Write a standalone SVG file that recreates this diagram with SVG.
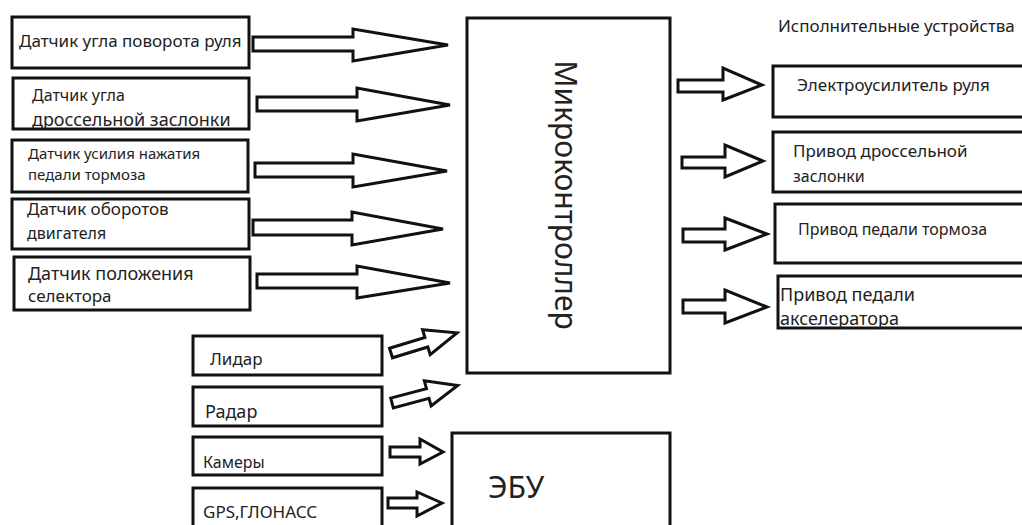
<svg xmlns="http://www.w3.org/2000/svg" width="1022" height="525" viewBox="0 0 1022 525">
<style>
.box{fill:#fff;stroke:#111;stroke-width:3}
.arr{fill:#fff;stroke:#111;stroke-width:3;stroke-linejoin:miter}
text{font-family:"Noto Sans","Liberation Sans",sans-serif;fill:#222;font-size:17px}
.s{font-size:15px}
.m{font-size:16px}
.l{font-size:18px}
.big{font-size:30px}
</style>
<rect width="1022" height="525" fill="#fff"/>
<g id="s1"><rect class="box" x="12" y="17" width="237" height="51"/><text x="19" y="47">Датчик угла поворота руля</text></g>
<g id="s2"><rect class="box" x="13" y="78" width="236" height="51"/><text class="m" x="32" y="101">Датчик угла</text><text class="l" x="32" y="126">дроссельной заслонки</text></g>
<g id="s3"><rect class="box" x="12" y="140" width="236" height="52"/><text class="s" x="28" y="159">Датчик усилия нажатия</text><text class="s" x="28" y="180">педали тормоза</text></g>
<g id="s4"><rect class="box" x="12" y="199" width="237" height="50"/><text x="27" y="215">Датчик оборотов</text><text class="m" x="27" y="239">двигателя</text></g>
<g id="s5"><rect class="box" x="14" y="257" width="236" height="53"/><text class="l" x="28" y="280">Датчик положения</text><text x="28" y="302">селектора</text></g>
<g id="mcu"><rect class="box" x="467" y="18" width="203" height="355"/><text class="big" x="555" y="195" text-anchor="middle" transform="rotate(90 555 195)">Микроконтроллер</text></g>
<g id="hdr"><text x="778" y="32">Исполнительные устройства</text></g>
<g id="a1"><rect class="box" x="773" y="66" width="260" height="51"/><text x="797" y="91">Электроусилитель руля</text></g>
<g id="a2"><rect class="box" x="773" y="132" width="260" height="60"/><text x="793" y="157">Привод дроссельной</text><text class="m" x="793" y="182">заслонки</text></g>
<g id="a3"><rect class="box" x="775" y="204" width="260" height="59"/><text class="m" x="798" y="235">Привод педали тормоза</text></g>
<g id="a4"><rect class="box" x="778" y="276" width="260" height="52"/><text class="l" x="780" y="301">Привод педали</text><text class="l" x="780" y="325">акселератора</text></g>
<g id="lidar"><rect class="box" x="193" y="336" width="189" height="39"/><text x="210" y="365">Лидар</text></g>
<g id="radar"><rect class="box" x="193" y="387" width="189" height="39"/><text class="l" x="205" y="418">Радар</text></g>
<g id="cam"><rect class="box" x="193" y="437" width="189" height="38"/><text class="m" x="203" y="468">Камеры</text></g>
<g id="gps"><rect class="box" x="193" y="488" width="189" height="45"/><text x="203" y="518">GPS,ГЛОНАСС</text></g>
<g id="ecu"><rect class="box" x="452" y="433" width="218" height="100"/><text class="big" x="488" y="498">ЭБУ</text></g>
<g id="connectors">
<polygon class="arr" points="253,37 353,37 353,29 448,45 353,61 353,51 253,51"/>
<polygon class="arr" points="257,97 357,97 357,88 450,105 357,121 357,111 257,111"/>
<polygon class="arr" points="255,163 353,163 353,154 447,171 353,187 353,177 255,177"/>
<polygon class="arr" points="253,220 352,220 352,212 443,229 352,245 352,235 253,235"/>
<polygon class="arr" points="257,274 357,274 357,266 450,283 357,298 357,288 257,288"/>
<polygon class="arr" points="678,80 723,80 723,68 762,85 723,100 723,92 678,92"/>
<polygon class="arr" points="682,157 725,157 725,145 763,161 725,177 725,168 682,168"/>
<polygon class="arr" points="683,229 725,229 725,218 767,234 725,250 725,242 683,242"/>
<polygon class="arr" points="683,300 725,300 725,290 767,307 725,323 725,313 683,313"/>
<polygon class="arr" points="0,-5 37,-5 37,-13 69,0 37,13 37,5 0,5" transform="translate(391 353) rotate(-17)"/>
<polygon class="arr" points="0,-5 37,-5 37,-13 68,0 37,13 37,5 0,5" transform="translate(392 403) rotate(-15)"/>
<polygon class="arr" points="390,447 420,447 420,439 443,452 420,464 420,457 390,457"/>
<polygon class="arr" points="388,498 417,498 417,492 442,503 417,516 417,508 388,508"/>
</g>
</svg>
